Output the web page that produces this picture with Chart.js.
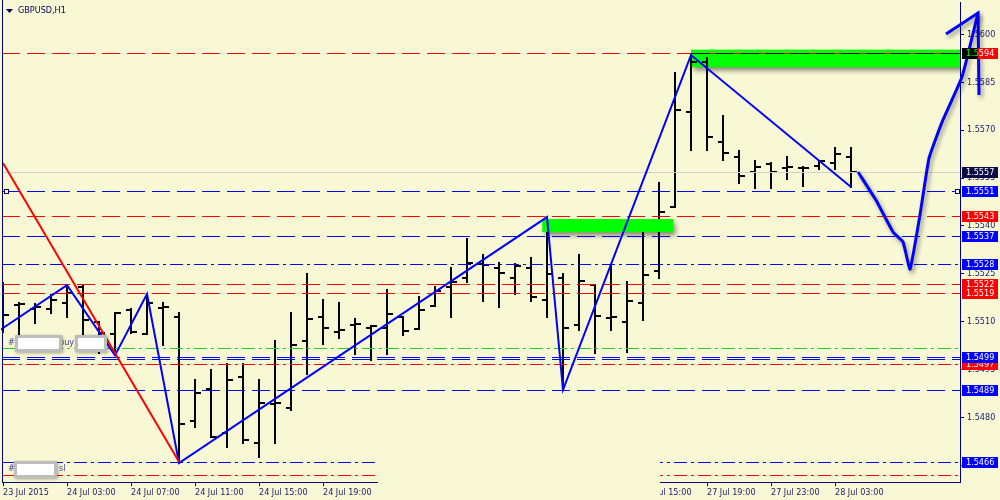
<!DOCTYPE html>
<html>
<head>
<meta charset="utf-8">
<script src="https://cdn.jsdelivr.net/npm/chart.js@4.4.1/dist/chart.umd.min.js"></script>
<style>
  html, body { margin: 0; padding: 0; background: #f8f8d4; }
  #wrap { width: 1000px; height: 500px; }
</style>
</head>
<body>
<div id="wrap"><canvas id="chart"></canvas></div>
<script>
// GBPUSD H1 bars, 23 Jul 2015 23:00 .. 28 Jul 04:00 (weekend skipped)
const barOpen = [1.55106, 1.55153, 1.55140, 1.55140, 1.55159, 1.55209, 1.55100, 1.55062, 1.55137, 1.55062,
  1.55143, 1.55115, 1.54790, 1.54890, 1.54752, 1.54927, 1.54721, 1.54843, 1.54830, 1.55040,
  1.55115, 1.55068, 1.55090, 1.55081, 1.55081, 1.55115, 1.55078, 1.55150, 1.55209, 1.55237,
  1.55281, 1.55269, 1.55237, 1.55269, 1.55168, 1.55237, 1.55090, 1.55215, 1.55112, 1.55100,
  1.55159, 1.55259, 1.55459, 1.55757, 1.55913, 1.55663, 1.55616, 1.55569, 1.55594, 1.55582,
  1.55582, 1.55588, 1.55597, 1.55616];
const barHigh = [1.55222, 1.55159, 1.55156, 1.55184, 1.55215, 1.55215, 1.55100, 1.55128, 1.55140, 1.55187,
  1.55159, 1.55128, 1.54918, 1.54949, 1.54968, 1.54968, 1.54918, 1.55040, 1.55128, 1.55250,
  1.55168, 1.55159, 1.55109, 1.55087, 1.55200, 1.55115, 1.55178, 1.55209, 1.55269, 1.55359,
  1.55309, 1.55284, 1.55281, 1.55300, 1.55428, 1.55250, 1.55309, 1.55215, 1.55278, 1.55225,
  1.55378, 1.55535, 1.55879, 1.55935, 1.55926, 1.55744, 1.55635, 1.55603, 1.55597, 1.55616,
  1.55585, 1.55603, 1.55644, 1.55644];
const barLow = [1.55068, 1.55059, 1.55096, 1.55128, 1.55115, 1.55059, 1.55003, 1.54995, 1.55065, 1.55062,
  1.55028, 1.54658, 1.54771, 1.54740, 1.54708, 1.54721, 1.54677, 1.54721, 1.54824, 1.54937,
  1.55031, 1.55049, 1.54999, 1.54981, 1.54999, 1.55059, 1.55078, 1.55150, 1.55115, 1.55225,
  1.55165, 1.55146, 1.55187, 1.55165, 1.55115, 1.54887, 1.55075, 1.55003, 1.55075, 1.55006,
  1.55106, 1.55237, 1.55459, 1.55638, 1.55638, 1.55607, 1.55535, 1.55519, 1.55519, 1.55547,
  1.55525, 1.55578, 1.55578, 1.55522];
const barClose = [1.55121, 1.55156, 1.55146, 1.55168, 1.55190, 1.55106, 1.55065, 1.55128, 1.55068, 1.55159,
  1.55146, 1.54780, 1.54877, 1.54740, 1.54918, 1.54730, 1.54846, 1.54846, 1.55028, 1.55109,
  1.55081, 1.55075, 1.55093, 1.55087, 1.55125, 1.55071, 1.55137, 1.55197, 1.55225, 1.55284,
  1.55278, 1.55253, 1.55275, 1.55178, 1.55250, 1.55081, 1.55228, 1.55118, 1.55115, 1.55165,
  1.55247, 1.55444, 1.55763, 1.55913, 1.55679, 1.55628, 1.55556, 1.55585, 1.55569, 1.55585,
  1.55582, 1.55603, 1.55625, 1.55569];

const xTickIdx = [0, 4, 8, 12, 16, 20, 24, 28, 32, 36, 40, 44, 48, 52];
const xTickLabels = ["23 Jul 2015", "24 Jul 03:00", "24 Jul 07:00", "24 Jul 11:00", "24 Jul 15:00",
  "24 Jul 19:00", "24 Jul 23:00", "27 Jul 03:00", "27 Jul 07:00", "27 Jul 11:00", "27 Jul 15:00",
  "27 Jul 19:00", "27 Jul 23:00", "28 Jul 03:00"];
const yTicks = [1.5465, 1.5480, 1.5495, 1.5510, 1.5525, 1.5540, 1.5555, 1.5570, 1.5585, 1.5600];

// zigzag pivots (bar index, price)
const zigzagIdx = [-1, 4, 7, 9, 11, 34, 35, 43, 53];
const zigzagPrice = [1.55047, 1.55215, 1.54995, 1.55187, 1.54658, 1.55428, 1.54887, 1.55935, 1.55522];
const trendIdx = [0, 11];
const trendPrice = [1.55597, 1.54662];
// hand drawn forecast + arrow head
const sketchIdx = [53.44, 54.56, 55.63, 56.25, 56.69, 57.31, 57.88, 58.69, 59.94, 60.94];
const sketchPrice = [1.55569, 1.55481, 1.55381, 1.55350, 1.55265, 1.55434, 1.55613, 1.55725, 1.55867, 1.56067];
const arrowIdx = [58.94, 60.94, 61.0];
const arrowPrice = [1.56001, 1.56067, 1.55810];

// zones
const zoneFrom = [43, 33.7];
const zoneTo = [62, 41.9];
const zoneTop = [1.55952, 1.55422];
const zoneBottom = [1.55897, 1.55381];

// horizontal levels
const levelValues = [1.55940, 1.55570, 1.55510, 1.55430, 1.55370, 1.55280, 1.55220, 1.55190,
  1.55017, 1.54968, 1.54990, 1.54983, 1.54886, 1.54660, 1.54621];
const levelLabeled = [true, true, true, true, true, true, true, true, false, true, true, false, true, true, false];

// notes on the left
const noteIdx = [0.45, 0.45];
const notePrice = [1.55034, 1.54639];
const noteWords = ["buy", "sl"];

const BLUE = "#0000ff", RED = "#ff0000", NAVY = "#000080", GREEN = "#22cc22";
const DASH = [18, 7], DASHDOT = [13, 4, 3, 4];
const levelStyle = [
  { color: RED, dash: DASH, box: RED },
  { color: "#cfcfcf", dash: [], box: "#0b0b45" },
  { color: BLUE, dash: DASH, box: BLUE },
  { color: RED, dash: DASH, box: RED },
  { color: BLUE, dash: DASH, box: BLUE },
  { color: BLUE, dash: DASHDOT, box: BLUE },
  { color: RED, dash: DASH, box: RED },
  { color: RED, dash: DASH, box: RED },
  { color: GREEN, dash: DASHDOT, box: null },
  { color: RED, dash: DASHDOT, box: RED },
  { color: BLUE, dash: DASH, box: BLUE },
  { color: BLUE, dash: DASH, box: null },
  { color: BLUE, dash: DASH, box: BLUE },
  { color: BLUE, dash: DASHDOT, box: BLUE },
  { color: RED, dash: DASHDOT, box: null }
];

const FONT_FAMILY = "'DejaVu Sans Condensed', 'Liberation Sans', sans-serif";
const AXIS_TEXT = "#1a1a70";
const X_MIN = -0.0625, X_MAX = 59.8125;
const Y_MIN = 1.545987, Y_MAX = 1.561011;

const pts = (xs, ys) => xs.map((v, i) => ({ x: v, y: ys[i] }));

const datasets = [
  { data: pts(trendIdx, trendPrice), borderColor: RED, borderWidth: 2, pointRadius: 0, order: 1 },
  { data: pts(zigzagIdx, zigzagPrice), borderColor: BLUE, borderWidth: 2, pointRadius: 0, order: 1 },
  { data: pts(sketchIdx, sketchPrice), borderColor: BLUE, borderWidth: 3, pointRadius: 0,
    tension: 0.12, clip: false, shadow: true, order: 0 },
  { data: pts(arrowIdx, arrowPrice), borderColor: BLUE, borderWidth: 3, pointRadius: 0,
    clip: false, shadow: true, order: 0 }
];

function drawZone(ctx, x, y, i) {
  const x0 = x.getPixelForValue(zoneFrom[i]), x1 = x.getPixelForValue(zoneTo[i]);
  const y0 = y.getPixelForValue(zoneTop[i]), y1 = y.getPixelForValue(zoneBottom[i]);
  ctx.save();
  ctx.shadowColor = "rgba(0,0,0,0.45)";
  ctx.shadowBlur = 5;
  ctx.shadowOffsetX = 3;
  ctx.shadowOffsetY = 4;
  ctx.fillStyle = "#00ff00";
  ctx.fillRect(x0, y0, x1 - x0, y1 - y0);
  ctx.restore();
}

function hLine(ctx, x0, x1, py, color, dash) {
  ctx.strokeStyle = color;
  ctx.setLineDash(dash);
  ctx.beginPath();
  ctx.moveTo(x0, py);
  ctx.lineTo(x1, py);
  ctx.stroke();
}

// zones, OHLC bars and level lines, under the zigzag lines
const barsPlugin = {
  id: "ohlc",
  beforeDatasetsDraw(chart) {
    const { ctx, chartArea: a, scales: { x, y } } = chart;
    ctx.save();
    ctx.beginPath();
    ctx.rect(a.left, a.top, a.right - a.left, a.bottom - a.top);
    ctx.clip();
    drawZone(ctx, x, y, 0);
    ctx.strokeStyle = "#000";
    ctx.lineWidth = 2;
    barOpen.forEach((o, i) => {
      const px = Math.round(x.getPixelForValue(i));
      const yh = Math.round(y.getPixelForValue(barHigh[i]));
      const yl = Math.round(y.getPixelForValue(barLow[i]));
      const yo = Math.round(y.getPixelForValue(o));
      const yc = Math.round(y.getPixelForValue(barClose[i]));
      ctx.beginPath();
      ctx.moveTo(px, yh - 1); ctx.lineTo(px, yl + 1);
      ctx.moveTo(px - 5, yo); ctx.lineTo(px, yo);
      ctx.moveTo(px, yc); ctx.lineTo(px + 6, yc);
      ctx.stroke();
    });
    drawZone(ctx, x, y, 1);

    ctx.lineWidth = 1;
    levelValues.forEach((v, i) => {
      const py = Math.round(y.getPixelForValue(v)) + 0.5;
      hLine(ctx, a.left, a.right, py, levelStyle[i].color, levelStyle[i].dash);
    });
    // the 1.5594 level shows black over the green zone
    const pz = Math.round(y.getPixelForValue(levelValues[0])) + 0.5;
    hLine(ctx, x.getPixelForValue(zoneFrom[0]), a.right, pz, "#000", DASH);
    ctx.restore();
  },
  beforeDatasetDraw(chart, args) {
    if (chart.data.datasets[args.index].shadow) {
      const ctx = chart.ctx;
      ctx.save();
      ctx.shadowColor = "rgba(0,0,0,0.4)";
      ctx.shadowBlur = 4;
      ctx.shadowOffsetX = 2;
      ctx.shadowOffsetY = 3;
    }
  },
  afterDatasetDraw(chart, args) {
    if (chart.data.datasets[args.index].shadow) chart.ctx.restore();
  }
};

function font(size) { return size + "px " + FONT_FAMILY; }

const overlayPlugin = {
  id: "overlay",
  afterDraw(chart) {
    const { ctx, chartArea: a, scales: { x, y } } = chart;
    ctx.save();
    // window region hidden by an object at the bottom
    ctx.fillStyle = "#f8f8d4";
    ctx.fillRect(378, 445, 282, 55);

    // left frame line
    ctx.strokeStyle = NAVY;
    ctx.lineWidth = 1;
    ctx.beginPath();
    ctx.moveTo(a.left + 0.5, 0);
    ctx.lineTo(a.left + 0.5, a.bottom);
    ctx.stroke();

    // price labels on the right
    ctx.font = font(9);
    ctx.textBaseline = "middle";
    ctx.textAlign = "left";
    levelValues.forEach((v, i) => {
      if (!levelLabeled[i]) return;
      const py = Math.round(y.getPixelForValue(v));
      const txt = v.toFixed(4);
      ctx.fillStyle = levelStyle[i].box;
      ctx.fillRect(a.right + 2, py - 5, 36, 11);
      ctx.fillStyle = "#fff";
      ctx.fillText(txt, a.right + 6, py + 0.5);
      if (i === 0) {
        ctx.save();
        ctx.beginPath();
        ctx.rect(a.right + 2, py - 5, 16, 11);
        ctx.clip();
        ctx.fillStyle = "#000";
        ctx.fillRect(a.right + 2, py - 5, 16, 11);
        ctx.fillStyle = "#00ff00";
        ctx.fillText(txt, a.right + 6, py + 0.5);
        ctx.restore();
      }
    });

    // small anchor squares of the 1.5551 line
    const sq = Math.round(y.getPixelForValue(levelValues[2]));
    ctx.fillStyle = "#fff";
    ctx.strokeStyle = "#000050";
    [a.left + 2, a.right - 5].forEach(sx => {
      ctx.fillRect(sx + 0.5, sq - 1.5, 4, 4);
      ctx.strokeRect(sx + 0.5, sq - 1.5, 4, 4);
    });

    // notes on the left with masked boxes
    const noteBoxes = [[[5, 47], [65, 32]], [[4, 43]]];
    const noteWordX = [49, 49];
    noteIdx.forEach((ix, n) => {
      const nx = Math.round(x.getPixelForValue(ix));
      const ny = Math.round(y.getPixelForValue(notePrice[n]));
      ctx.fillStyle = "#4040a0";
      ctx.font = font(9);
      ctx.textBaseline = "middle";
      ctx.fillText("#", nx - 2, ny);
      ctx.fillText(noteWords[n], nx + noteWordX[n], ny);
      noteBoxes[n].forEach(([ox, w]) => {
        ctx.save();
        ctx.shadowColor = "rgba(0,0,0,0.35)";
        ctx.shadowBlur = 3;
        ctx.shadowOffsetX = 1;
        ctx.shadowOffsetY = 1;
        ctx.fillStyle = "#bdbdbd";
        ctx.fillRect(nx + ox, ny - 8, w, 17);
        ctx.restore();
        ctx.fillStyle = "#fff";
        ctx.fillRect(nx + ox + 3, ny - 5, w - 6, 11);
      });
    });

    // title
    ctx.fillStyle = "#000060";
    ctx.beginPath();
    ctx.moveTo(6, 9); ctx.lineTo(13, 9); ctx.lineTo(9.5, 13); ctx.closePath();
    ctx.fill();
    ctx.font = font(9);
    ctx.textBaseline = "middle";
    ctx.fillText("GBPUSD,H1", 18, 11);
    ctx.restore();
  }
};

new Chart(document.getElementById("chart"), {
  type: "line",
  data: { datasets: datasets },
  plugins: [barsPlugin, overlayPlugin],
  options: {
    responsive: true,
    maintainAspectRatio: false,
    animation: false,
    events: [],
    layout: { padding: { left: 2, top: 2, right: 0, bottom: 0 } },
    plugins: { legend: { display: false }, tooltip: { enabled: false } },
    scales: {
      x: {
        type: "linear", bounds: "data",
        afterDataLimits: s => { s.min = X_MIN; s.max = X_MAX; },
        afterBuildTicks: s => { s.ticks = xTickIdx.map(v => ({ value: v })); },
        afterFit: s => { s.height = 18; s.paddingLeft = 0; s.paddingRight = 0; },
        ticks: {
          autoSkip: false, maxRotation: 0, minRotation: 0, align: "start", padding: 1,
          color: AXIS_TEXT, font: { family: FONT_FAMILY, size: 9 },
          callback: (v, i) => xTickLabels[i]
        },
        grid: { display: true, drawOnChartArea: false, tickLength: 4, color: NAVY },
        border: { display: true, color: NAVY }
      },
      y: {
        type: "linear", position: "right", bounds: "data",
        afterDataLimits: s => { s.min = Y_MIN; s.max = Y_MAX; },
        afterBuildTicks: s => { s.ticks = yTicks.map(v => ({ value: v })); },
        afterFit: s => { s.width = 40; s.paddingTop = 0; s.paddingBottom = 0; },
        ticks: {
          padding: 3, color: AXIS_TEXT, font: { family: FONT_FAMILY, size: 9 },
          callback: v => v.toFixed(4)
        },
        grid: { display: true, drawOnChartArea: false, tickLength: 4, color: NAVY },
        border: { display: true, color: NAVY }
      }
    }
  }
});
</script>
</body>
</html>
